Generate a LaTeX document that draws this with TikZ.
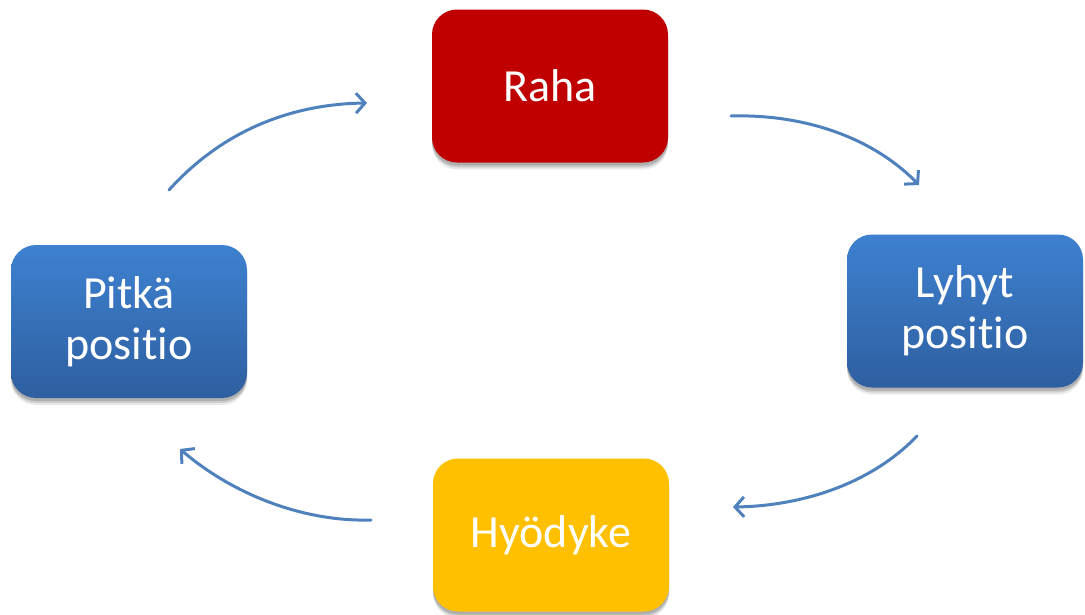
\documentclass[tikz,border=0pt]{standalone}
\usepackage{fontspec}
\setmainfont[Ligatures=NoCommon]{Carlito}
\usetikzlibrary{arrows.meta,shadows}
\definecolor{rahared}{RGB}{192,0,0}
\definecolor{hyoyellow}{RGB}{255,192,0}
\definecolor{bluetop}{RGB}{62,129,208}
\definecolor{bluebot}{RGB}{46,95,160}
\definecolor{arrowblue}{RGB}{79,129,189}
\tikzset{
  box/.style={rounded corners=25pt, minimum width=236pt, minimum height=153pt,
    inner sep=0pt, text=white, align=center,
    font=\fontsize{46}{51}\selectfont,
    drop shadow={shadow xshift=0pt, shadow yshift=-7pt, opacity=0.08, fill=black},
    drop shadow={shadow xshift=0pt, shadow yshift=-5pt, opacity=0.12, fill=black},
    drop shadow={shadow xshift=0pt, shadow yshift=-3pt, opacity=0.15, fill=black}},
  bluebox/.style={box, top color=bluetop, bottom color=bluebot},
  flow/.style={draw=arrowblue, line width=3pt, line cap=round,
    -{Straight Barb[length=9pt, width=20pt, line width=3pt]}}
}
\begin{document}
\begin{tikzpicture}[x=1pt,y=-1pt]
\useasboundingbox (0,0) rectangle (1085,614);
\node[box, fill=rahared] (raha) at (550,86) {Raha};
\node[bluebox] (pitka) at (129,321.5) {Pitkä\\positio};
\node[bluebox] (lyhyt) at (965,311) {Lyhyt\\positio};
\node[box, fill=hyoyellow] (hyod) at (551,535) {Hyödyke};
\coordinate (a1s) at (169,190);
\coordinate (a1e) at (367,103);
\coordinate (a2s) at (731,116);
\coordinate (a2e) at (919,185);
\coordinate (a3s) at (917,436);
\coordinate (a3e) at (733,507);
\coordinate (a4s) at (371,520);
\coordinate (a4e) at (180,449);
\draw[flow] (a1s) .. controls (225,128) and (295,104) .. (a1e);
\draw[flow] (a2s) .. controls (800,114) and (870,135) .. (a2e);
\draw[flow] (a3s) .. controls (870,485) and (800,506) .. (a3e);
\draw[flow] (a4s) .. controls (300,522) and (230,492) .. (a4e);
\end{tikzpicture}
\end{document}
